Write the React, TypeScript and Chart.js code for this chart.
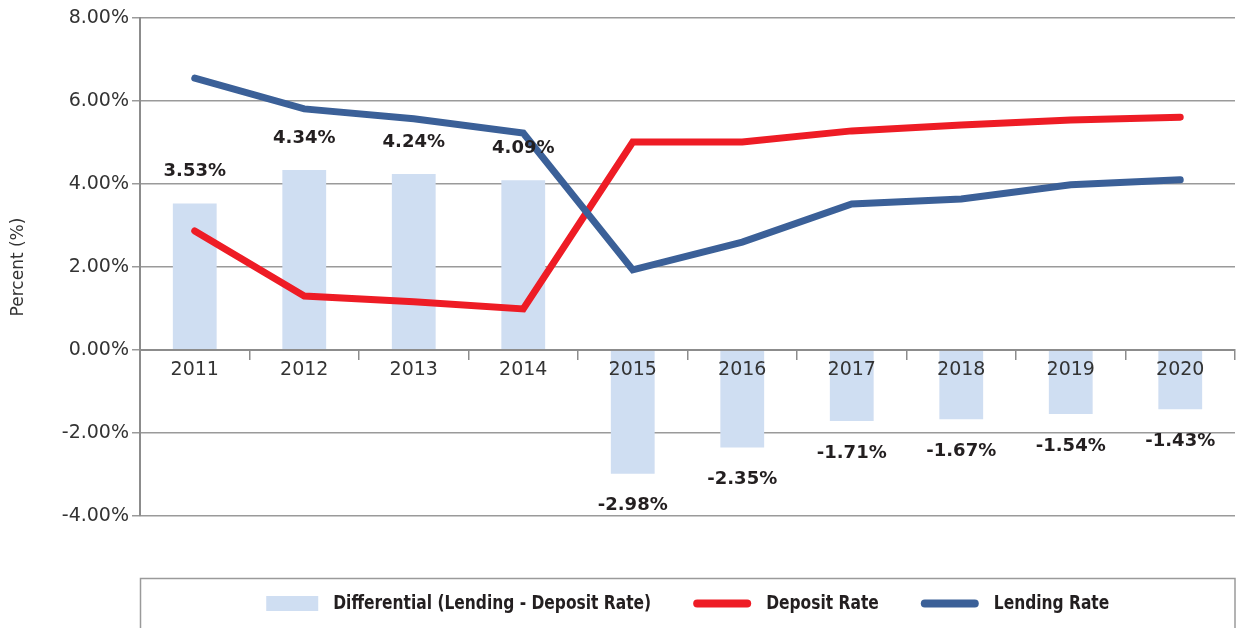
import React, { useEffect, useRef } from "react";
import { Chart, registerables } from "chart.js";

Chart.register(...registerables);

const years = ["2011", "2012", "2013", "2014", "2015", "2016", "2017", "2018", "2019", "2020"];
const differential = [3.53, 4.34, 4.24, 4.09, -2.98, -2.35, -1.71, -1.67, -1.54, -1.43];
const depositRate = [2.87, 1.3, 1.16, 0.99, 5.01, 5.01, 5.28, 5.42, 5.54, 5.61];
const lendingRate = [6.55, 5.81, 5.57, 5.23, 1.93, 2.6, 3.52, 3.64, 3.98, 4.1];
const yMin = -4;
const yMax = 8;
const yStep = 2;
const seriesNames = ["Differential (Lending - Deposit Rate)", "Deposit Rate", "Lending Rate"];
const axisTitle = "Percent (%)";

const BAR_COLOR = "#CFDEF2";
const RED = "#EE1C25";
const BLUE = "#3B6098";
const TEXT = "#231F20";
const TICK_TEXT = "#333333";
const GRID = "#9a9a9a";
const AXIS = "#8c8c8c";
const LEGEND_FONT = 'bold 20px "Liberation Sans Narrow", "DejaVu Sans Condensed", sans-serif';
const LEGEND_SQUEEZE = 0.86;

const barLabelPlugin = {
  id: "barLabels",
  afterDatasetsDraw(chart: any) {
    const ctx = chart.ctx;
    const meta = chart.getDatasetMeta(0);
    ctx.save();
    ctx.font = 'bold 18px "DejaVu Sans", sans-serif';
    ctx.fillStyle = TEXT;
    ctx.textAlign = "center";
    ctx.textBaseline = "middle";
    meta.data.forEach((bar: any, i: number) => {
      const v = differential[i];
      const y = v >= 0 ? bar.y - 32 : bar.y + 32;
      ctx.fillText(v.toFixed(2) + "%", bar.x, y);
    });
    ctx.restore();
  },
};

function squeezedText(ctx: CanvasRenderingContext2D, text: string, x: number, y: number) {
  ctx.save();
  ctx.translate(x, y);
  ctx.scale(LEGEND_SQUEEZE, 1);
  ctx.fillText(text, 0, 0);
  ctx.restore();
}

const legendPlugin = {
  id: "boxLegend",
  afterDraw(chart: any) {
    const ctx = chart.ctx;
    const area = chart.chartArea;
    const boxTop = 578.5;
    const boxLeft = area.left + 0.5;
    const boxRight = area.right;
    ctx.save();
    ctx.strokeStyle = GRID;
    ctx.lineWidth = 1.5;
    ctx.strokeRect(boxLeft, boxTop, boxRight - boxLeft, 120);

    ctx.font = LEGEND_FONT;
    const cy = 603.5;
    const swatchW = 52;
    const lineW = 58;
    const gapSwatchText = 15;
    const gapItems = 42;
    const w0 = ctx.measureText(seriesNames[0]).width * LEGEND_SQUEEZE;
    const w1 = ctx.measureText(seriesNames[1]).width * LEGEND_SQUEEZE;
    const w2 = ctx.measureText(seriesNames[2]).width * LEGEND_SQUEEZE;
    const total =
      swatchW + gapSwatchText + w0 + gapItems + lineW + gapSwatchText + w1 + gapItems + lineW + gapSwatchText + w2;
    let x = (boxLeft + boxRight) / 2 - total / 2;

    ctx.fillStyle = BAR_COLOR;
    ctx.fillRect(x, cy - 7.5, swatchW, 15);
    x += swatchW + gapSwatchText;
    ctx.fillStyle = TEXT;
    ctx.textBaseline = "middle";
    ctx.textAlign = "left";
    squeezedText(ctx, seriesNames[0], x, cy);
    x += w0 + gapItems;

    ctx.lineCap = "round";
    ctx.lineWidth = 8;
    ctx.strokeStyle = RED;
    ctx.beginPath();
    ctx.moveTo(x + 4, cy);
    ctx.lineTo(x + lineW - 4, cy);
    ctx.stroke();
    x += lineW + gapSwatchText;
    squeezedText(ctx, seriesNames[1], x, cy);
    x += w1 + gapItems;

    ctx.strokeStyle = BLUE;
    ctx.beginPath();
    ctx.moveTo(x + 4, cy);
    ctx.lineTo(x + lineW - 4, cy);
    ctx.stroke();
    x += lineW + gapSwatchText;
    squeezedText(ctx, seriesNames[2], x, cy);
    ctx.restore();
  },
};

export default function App() {
  const canvasRef = useRef<HTMLCanvasElement | null>(null);

  useEffect(() => {
    if (!canvasRef.current) return;
    const chart = new Chart(canvasRef.current, {
      type: "bar",
      data: {
        labels: years,
        datasets: [
          {
            type: "bar",
            label: seriesNames[0],
            data: differential,
            backgroundColor: BAR_COLOR,
            borderWidth: 0,
            barPercentage: 0.4,
            categoryPercentage: 1,
            order: 2,
          },
          {
            type: "line",
            label: seriesNames[1],
            data: depositRate,
            borderColor: RED,
            backgroundColor: RED,
            borderWidth: 7,
            pointRadius: 0,
            tension: 0,
            borderCapStyle: "round",
            borderJoinStyle: "miter",
            order: 1,
          },
          {
            type: "line",
            label: seriesNames[2],
            data: lendingRate,
            borderColor: BLUE,
            backgroundColor: BLUE,
            borderWidth: 7,
            pointRadius: 0,
            tension: 0,
            borderCapStyle: "round",
            borderJoinStyle: "miter",
            order: 0,
          },
        ],
      } as any,
      options: {
        responsive: false,
        animation: false,
        devicePixelRatio: 1,
        layout: { padding: { top: 18, bottom: 112, left: 0, right: 2 } },
        plugins: {
          legend: { display: false },
          tooltip: { enabled: false },
        },
        scales: {
          x: {
            type: "category",
            position: { y: 0 } as any,
            offset: true,
            grid: {
              drawOnChartArea: false,
              drawTicks: true,
              tickLength: 9,
              color: AXIS,
              lineWidth: 1.5,
              offset: true,
              z: 1,
            },
            border: { display: true, color: AXIS, width: 2, z: 1 },
            ticks: {
              color: TICK_TEXT,
              font: { family: '"DejaVu Sans", sans-serif', size: 19 },
              padding: 0,
              maxRotation: 0,
              autoSkip: false,
              z: 1,
            },
          },
          y: {
            min: yMin,
            max: yMax,
            ticks: {
              stepSize: yStep,
              color: TICK_TEXT,
              font: { family: '"DejaVu Sans", sans-serif', size: 19 },
              padding: 3,
              callback: (v: any) => Number(v).toFixed(2) + "%",
            },
            grid: { color: GRID, lineWidth: 1.5, tickLength: 8, drawTicks: true },
            border: { color: AXIS, width: 2 },
            title: {
              display: true,
              text: axisTitle,
              color: TICK_TEXT,
              font: { family: '"DejaVu Sans", sans-serif', size: 17 },
              padding: { top: 8, bottom: 0 },
            },
            afterFit: (s: any) => {
              s.width = 140;
            },
          },
        },
      } as any,
      plugins: [barLabelPlugin, legendPlugin],
    });
    return () => chart.destroy();
  }, []);

  return (
    <div style={{ position: "absolute", left: 0, top: 0, width: 1237, height: 628, background: "#fff" }}>
      <canvas ref={canvasRef} width={1237} height={628} style={{ display: "block" }} />
    </div>
  );
}
